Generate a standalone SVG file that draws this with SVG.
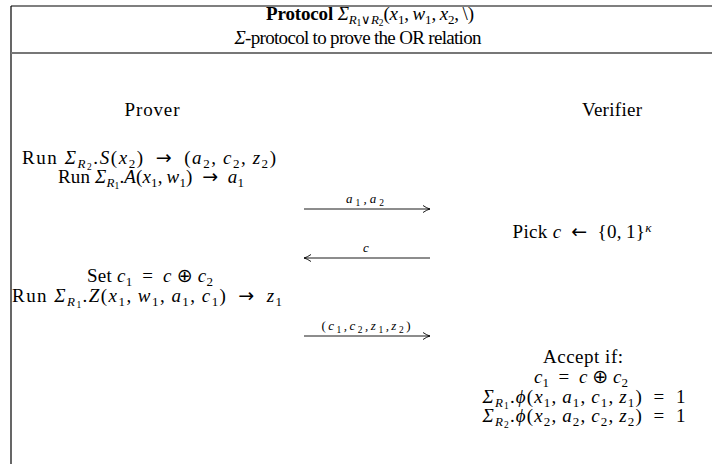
<svg xmlns="http://www.w3.org/2000/svg" width="712" height="464" viewBox="0 0 712 464">
<style>
text{font-family:"Liberation Serif","Times New Roman",serif;font-size:19px;fill:#000}
.c{text-anchor:middle}
.i{font-style:italic}
.n{font-style:normal}
.b{font-weight:bold}
.s{font-size:13px}
.ss{font-size:9.5px}
.op{font-family:"DejaVu Sans",sans-serif;font-size:19px}
.lab{font-size:13px;font-style:italic}
.ls{font-size:9.5px;font-style:normal}
.frame{stroke:#000;stroke-width:1.2;fill:none}
.sep{stroke:#777;stroke-width:2;fill:none}
.msg{stroke:#000;stroke-width:0.9;fill:none}
</style>
<defs>
<marker id="ah" viewBox="0 0 10 10" refX="9.5" refY="5" markerWidth="10" markerHeight="10" markerUnits="userSpaceOnUse" orient="auto">
<path d="M2.5,1.5 Q6.5,4.3 9.5,5 Q6.5,5.7 2.5,8.5" stroke="#000" stroke-width="0.9" fill="none"/>
</marker>
</defs>
<rect width="712" height="464" fill="#fff"/>
<g id="frame">
<line class="frame" x1="11" y1="6" x2="712" y2="6"/>
<line class="frame" x1="11" y1="6" x2="11" y2="464"/>
<line class="sep" x1="11" y1="53" x2="712" y2="53"/>
</g>
<g id="title">
<text class="c" x="370" y="20" textLength="208"><tspan class="b">Protocol</tspan> <tspan class="i">Σ</tspan><tspan class="s i" baseline-shift="-4">R</tspan><tspan class="ss" baseline-shift="-6">1</tspan><tspan class="s" baseline-shift="-4">∨</tspan><tspan class="s i" baseline-shift="-4">R</tspan><tspan class="ss" baseline-shift="-6">2</tspan>(<tspan class="i">x</tspan><tspan class="s" baseline-shift="-4">1</tspan>,&#8201;<tspan class="i">w</tspan><tspan class="s" baseline-shift="-4">1</tspan>,&#8201;<tspan class="i">x</tspan><tspan class="s" baseline-shift="-4">2</tspan>,&#8201;\)</text>
<text class="c" x="358" y="44" textLength="247"><tspan class="i">Σ</tspan>-protocol to prove the OR relation</text>
</g>
<g id="prover">
<text class="c" x="152" y="116" textLength="55">Prover</text>
<text class="c" x="149" y="164" textLength="254">Run <tspan class="i">Σ</tspan><tspan class="s i" baseline-shift="-4">R</tspan><tspan class="ss" baseline-shift="-6">2</tspan>.<tspan class="i">S</tspan>(<tspan class="i">x</tspan><tspan class="s" baseline-shift="-4">2</tspan>)&#8194;<tspan class="op">→</tspan>&#8194;(<tspan class="i">a</tspan><tspan class="s" baseline-shift="-4">2</tspan>,&#8201;<tspan class="i">c</tspan><tspan class="s" baseline-shift="-4">2</tspan>,&#8201;<tspan class="i">z</tspan><tspan class="s" baseline-shift="-4">2</tspan>)</text>
<text class="c" x="151" y="183" textLength="186">Run <tspan class="i">Σ</tspan><tspan class="s i" baseline-shift="-4">R</tspan><tspan class="ss" baseline-shift="-6">1</tspan>.<tspan class="i">A</tspan>(<tspan class="i">x</tspan><tspan class="s" baseline-shift="-4">1</tspan>,&#8201;<tspan class="i">w</tspan><tspan class="s" baseline-shift="-4">1</tspan>)&#8194;<tspan class="op">→</tspan>&#8194;<tspan class="i">a</tspan><tspan class="s" baseline-shift="-4">1</tspan></text>
<text class="c" x="150" y="282" textLength="126">Set <tspan class="i">c</tspan><tspan class="s" baseline-shift="-4">1</tspan>&#8194;=&#8194;<tspan class="i">c</tspan>&#8197;<tspan class="op">⊕</tspan>&#8197;<tspan class="i">c</tspan><tspan class="s" baseline-shift="-4">2</tspan></text>
<text class="c" x="147" y="302" textLength="270">Run <tspan class="i">Σ</tspan><tspan class="s i" baseline-shift="-4">R</tspan><tspan class="ss" baseline-shift="-6">1</tspan>.<tspan class="i">Z</tspan>(<tspan class="i">x</tspan><tspan class="s" baseline-shift="-4">1</tspan>,&#8201;<tspan class="i">w</tspan><tspan class="s" baseline-shift="-4">1</tspan>,&#8201;<tspan class="i">a</tspan><tspan class="s" baseline-shift="-4">1</tspan>,&#8201;<tspan class="i">c</tspan><tspan class="s" baseline-shift="-4">1</tspan>)&#8194;<tspan class="op">→</tspan>&#8194;<tspan class="i">z</tspan><tspan class="s" baseline-shift="-4">1</tspan></text>
</g>
<g id="verifier">
<text class="c" x="612" y="116" textLength="60">Verifier</text>
<text class="c" x="582" y="238" textLength="139">Pick <tspan class="i">c</tspan>&#8194;<tspan class="op">←</tspan>&#8194;{0,&#8201;1}<tspan class="s i" baseline-shift="6">κ</tspan></text>
<text class="c" x="583" y="363" textLength="80">Accept if:</text>
<text class="c" x="581" y="383" textLength="94"><tspan class="i">c</tspan><tspan class="s" baseline-shift="-4">1</tspan>&#8194;=&#8194;<tspan class="i">c</tspan>&#8197;<tspan class="op">⊕</tspan>&#8197;<tspan class="i">c</tspan><tspan class="s" baseline-shift="-4">2</tspan></text>
<text class="c" x="584" y="403" textLength="203"><tspan class="i">Σ</tspan><tspan class="s i" baseline-shift="-4">R</tspan><tspan class="ss" baseline-shift="-6">1</tspan>.<tspan class="i">ϕ</tspan>(<tspan class="i">x</tspan><tspan class="s" baseline-shift="-4">1</tspan>,&#8201;<tspan class="i">a</tspan><tspan class="s" baseline-shift="-4">1</tspan>,&#8201;<tspan class="i">c</tspan><tspan class="s" baseline-shift="-4">1</tspan>,&#8201;<tspan class="i">z</tspan><tspan class="s" baseline-shift="-4">1</tspan>)&#8194;=&#8194;1</text>
<text class="c" x="584" y="422" textLength="203"><tspan class="i">Σ</tspan><tspan class="s i" baseline-shift="-4">R</tspan><tspan class="ss" baseline-shift="-6">2</tspan>.<tspan class="i">ϕ</tspan>(<tspan class="i">x</tspan><tspan class="s" baseline-shift="-4">2</tspan>,&#8201;<tspan class="i">a</tspan><tspan class="s" baseline-shift="-4">2</tspan>,&#8201;<tspan class="i">c</tspan><tspan class="s" baseline-shift="-4">2</tspan>,&#8201;<tspan class="i">z</tspan><tspan class="s" baseline-shift="-4">2</tspan>)&#8194;=&#8194;1</text>
</g>
<g id="connectors">
<line class="msg" x1="304" y1="209" x2="430" y2="209" marker-end="url(#ah)"/>
<text class="c lab" x="365" y="203" textLength="38">a<tspan class="ls" baseline-shift="-3">1</tspan>,a<tspan class="ls" baseline-shift="-3">2</tspan></text>
<line class="msg" x1="430" y1="258" x2="304" y2="258" marker-end="url(#ah)"/>
<text class="c lab" x="366" y="252">c</text>
<line class="msg" x1="304" y1="336" x2="430" y2="336" marker-end="url(#ah)"/>
<text class="c lab" x="366" y="330" textLength="89"><tspan class="n">(</tspan>c<tspan class="ls" baseline-shift="-3">1</tspan>,c<tspan class="ls" baseline-shift="-3">2</tspan>,z<tspan class="ls" baseline-shift="-3">1</tspan>,z<tspan class="ls" baseline-shift="-3">2</tspan><tspan class="n">)</tspan></text>
</g>
</svg>
